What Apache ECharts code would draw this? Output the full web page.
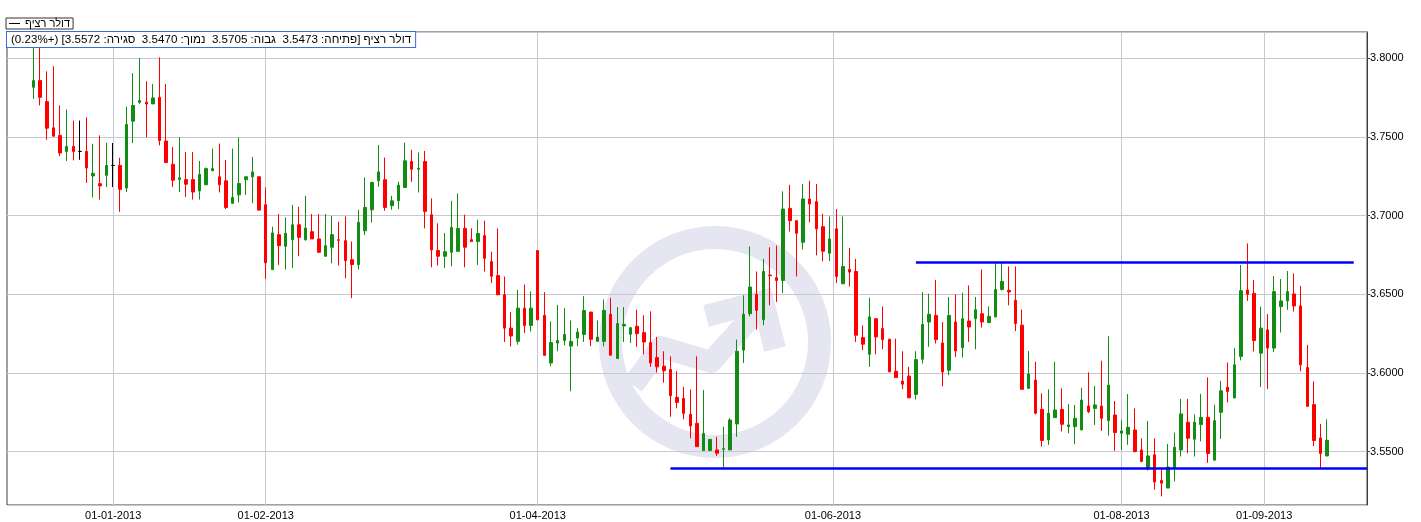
<!DOCTYPE html>
<html><head><meta charset="utf-8">
<script src="https://cdn.jsdelivr.net/npm/echarts@6/dist/echarts.min.js"></script>
<style>html,body{margin:0;padding:0;background:#fff}#c{width:1421px;height:522px}</style>
</head><body><div id="c"></div>
<script>
// ---------------- data ----------------
const seriesName = 'דולר רציף';
const firstTradeDay = '2012-12-14';   // first candle; one candle per weekday
const padBefore = 4, padAfter = 6;     // empty weekday slots on the axis

const open = [
3.7816,3.7858,3.7725,3.7558,3.7510,3.7408,3.7440,3.7408,3.7408,3.7252,3.7203,3.7256,3.7319,3.7319,3.7176,3.7600,3.7720,3.7721,3.7710,3.7752,3.7474,3.7326,3.7229,3.7229,3.7229,3.7157,3.7196,
3.7285,3.7247,3.7221,3.7078,3.7132,3.7228,3.7247,3.7247,3.7069,3.6657,3.6879,3.6805,3.6847,3.6942,3.6847,3.6898,3.6852,3.6742,3.6799,3.6847,3.6841,3.6720,3.6689,3.6904,3.7037,3.7221,3.7228,3.7063,3.7094,3.7179,
3.7344,3.7295,3.7344,3.7006,3.6778,3.6742,3.6767,3.6773,3.6919,3.6847,3.6835,3.6873,3.6708,3.6619,3.6497,3.6285,3.6201,3.6412,3.6302,3.6778,3.6366,3.6064,3.6190,3.6207,3.6171,3.6222,3.6245,3.6387,3.6201,3.6201,
3.6373,3.6092,3.6299,3.6246,3.6297,3.6256,3.6193,3.6098,3.6043,3.6022,3.5845,3.5838,3.5737,3.5680,3.5507,3.5507,3.5511,3.5515,3.5511,3.5676,3.6145,3.6377,3.6500,3.6339,3.6622,3.6605,3.6588,3.7046,
3.6968,3.6831,3.7106,3.7089,3.6930,3.6761,3.6916,3.6567,3.6658,3.6645,3.6225,3.6119,3.6345,3.6282,3.6214,3.6011,3.5948,3.5980,3.5864,3.6087,3.6324,3.6366,3.6191,3.6018,3.6324,3.6161,3.6330,3.6345,3.6377,3.6320,3.6356,
3.6530,3.6525,3.6462,3.6304,3.5902,3.5955,3.5769,3.5575,3.5716,3.5769,3.5659,3.5659,3.5638,3.5790,3.5775,3.5790,3.5697,3.5733,3.5617,3.5611,3.5638,3.5511,3.5395,3.5480,3.5317,3.5269,3.5395,3.5511,3.5687,3.5579,
3.5672,3.5718,3.5446,3.5750,3.5909,3.5841,3.6105,3.6527,3.6506,3.6126,3.6274,3.6158,3.6422,3.6458,3.6502,3.6426,3.6035,3.5799,3.5587,3.5473];
const close = [
3.7858,3.7752,3.7556,3.7505,3.7398,3.7440,3.7408,3.7408,3.7303,3.7269,3.7189,3.7319,3.7319,3.7167,3.7579,3.7700,3.7731,3.7710,3.7748,3.7478,3.7337,3.7225,3.7240,3.7200,3.7150,3.7262,3.7299,
3.7299,3.7196,3.7052,3.7115,3.7204,3.7247,3.7278,3.7035,3.6700,3.6890,3.6809,3.6888,3.6942,3.6862,3.6921,3.6852,3.6767,3.6809,3.6879,3.6843,3.6714,3.6689,3.6957,3.7052,3.7211,3.7278,3.7052,3.7094,3.7194,3.7348,
3.7295,3.7301,3.7027,3.6782,3.6742,3.6771,3.6925,3.6919,3.6799,3.6835,3.6887,3.6729,3.6615,3.6497,3.6285,3.6235,3.6412,3.6302,3.6412,3.6338,3.6112,3.6193,3.6207,3.6245,3.6201,3.6260,3.6397,3.6214,3.6228,3.6397,
3.6113,3.6314,3.6309,3.6288,3.6250,3.6197,3.6064,3.6039,3.6014,3.5855,3.5813,3.5743,3.5663,3.5532,3.5616,3.5578,3.5490,3.5519,3.5701,3.6138,3.6373,3.6546,3.6398,3.6645,3.6618,3.6588,3.7042,3.6968,
3.6888,3.7106,3.7074,3.6916,3.6774,3.6852,3.6613,3.6677,3.6641,3.6240,3.6183,3.6356,3.6229,3.6212,3.6007,3.5971,3.5929,3.5842,3.6085,3.6309,3.6373,3.6212,3.6007,3.6366,3.6140,3.6345,3.6292,3.6402,3.6324,3.6360,3.6530,
3.6582,3.6515,3.6314,3.5896,3.5993,3.5744,3.5571,3.5744,3.5765,3.5674,3.5670,3.5712,3.5828,3.5754,3.5797,3.5712,3.5923,3.5621,3.5632,3.5655,3.5501,3.5438,3.5473,3.5307,3.5300,3.5402,3.5528,3.5740,3.5585,3.5687,
3.5718,3.5488,3.5697,3.5887,3.5883,3.6052,3.6523,3.6500,3.6206,3.6285,3.6158,3.6517,3.6458,3.6517,3.6426,3.6052,3.5788,3.5571,3.5488,3.5572];
const high = [
3.8069,3.8065,3.7917,3.7949,3.7700,3.7674,3.7604,3.7604,3.7625,3.7457,3.7510,3.7462,3.7462,3.7368,3.7693,3.7905,3.8002,3.7854,3.7837,3.8006,3.7837,3.7436,3.7499,3.7404,3.7404,3.7347,3.7306,
3.7426,3.7458,3.7354,3.7426,3.7496,3.7247,3.7373,3.7247,3.7179,3.6930,3.7010,3.6989,3.7069,3.7056,3.7126,3.7010,3.7010,3.7010,3.6999,3.6961,3.6995,3.6835,3.7037,3.7242,3.7215,3.7449,3.7369,3.7126,3.7215,3.7464,
3.7418,3.7401,3.7411,3.7109,3.6951,3.6890,3.7094,3.7141,3.7006,3.6919,3.6974,3.6968,3.6771,3.6919,3.6613,3.6387,3.6528,3.6562,3.6518,3.6778,3.6514,3.6328,3.6433,3.6412,3.6334,3.6285,3.6488,3.6387,3.6334,3.6467,
3.6478,3.6419,3.6419,3.6288,3.6402,3.6366,3.6392,3.6229,3.6138,3.6106,3.6011,3.5912,3.5895,3.6106,3.5891,3.5578,3.5595,3.5659,3.5712,3.6212,3.6493,3.6804,3.6645,3.6725,3.6799,3.6810,3.7154,3.7196,
3.6968,3.7201,3.7222,3.7201,3.7011,3.6994,3.7042,3.6994,3.6795,3.6725,3.6303,3.6478,3.6345,3.6423,3.6218,3.6218,3.6138,3.6039,3.6138,3.6514,3.6504,3.6592,3.6324,3.6483,3.6500,3.6510,3.6556,3.6483,3.6658,3.6423,3.6705,
3.6705,3.6677,3.6677,3.6403,3.6139,3.6071,3.5871,3.5896,3.6071,3.5902,3.5803,3.5797,3.5906,3.6004,3.5917,3.6078,3.6234,3.5822,3.5702,3.5866,3.5775,3.5585,3.5695,3.5585,3.5389,3.5549,3.5621,3.5835,3.5835,3.5737,
3.5868,3.5972,3.5799,3.5951,3.6067,3.6158,3.6686,3.6823,3.6591,3.6422,3.6375,3.6616,3.6597,3.6648,3.6633,3.6553,3.6179,3.5947,3.5676,3.5705];
const low = [
3.7742,3.7700,3.7482,3.7503,3.7379,3.7347,3.7351,3.7355,3.7208,3.7115,3.7102,3.7182,3.7182,3.7024,3.7150,3.7461,3.7710,3.7499,3.7710,3.7446,3.7334,3.7182,3.7150,3.7119,3.7102,3.7102,3.7196,
3.7285,3.7147,3.7042,3.7078,3.7084,3.7132,3.7078,3.7035,3.6598,3.6657,3.6687,3.6657,3.6666,3.6742,3.6841,3.6852,3.6763,3.6742,3.6697,3.6683,3.6602,3.6476,3.6657,3.6877,3.6957,3.7183,3.7031,3.7037,3.7042,3.7179,
3.7215,3.7147,3.6919,3.6672,3.6683,3.6666,3.6678,3.6773,3.6672,3.6835,3.6687,3.6645,3.6571,3.6497,3.6197,3.6169,3.6180,3.6254,3.6264,3.6334,3.6108,3.6042,3.6138,3.6176,3.5884,3.6171,3.6197,3.6171,3.6201,3.6169,
3.6112,3.6092,3.6197,3.6191,3.6166,3.6119,3.6039,3.6003,3.5938,3.5722,3.5775,3.5705,3.5585,3.5532,3.5507,3.5507,3.5473,3.5395,3.5511,3.5595,3.6064,3.6360,3.6275,3.6303,3.6430,3.6451,3.6508,3.6899,
3.6613,3.6785,3.6958,3.6747,3.6711,3.6711,3.6571,3.6567,3.6550,3.6197,3.6145,3.6039,3.6119,3.6151,3.6007,3.5971,3.5897,3.5842,3.5832,3.6060,3.6166,3.6187,3.5916,3.5986,3.6102,3.6098,3.6197,3.6151,3.6288,3.6320,3.6356,
3.6525,3.6430,3.6266,3.5896,3.5902,3.5737,3.5533,3.5543,3.5716,3.5628,3.5617,3.5547,3.5638,3.5744,3.5670,3.5632,3.5602,3.5505,3.5511,3.5543,3.5495,3.5433,3.5380,3.5258,3.5216,3.5269,3.5311,3.5469,3.5490,3.5469,
3.5566,3.5429,3.5446,3.5581,3.5813,3.5841,3.6080,3.6458,3.6137,3.5911,3.5898,3.6133,3.6257,3.6401,3.6390,3.6010,3.5788,3.5535,3.5397,3.5470];

const monthTicks = ['2013-01-01','2013-02-01','2013-04-01','2013-06-01','2013-08-01','2013-09-01'];
const trendLines = [
  {from:'2013-06-19', to:'2013-09-19', value:3.6703},
  {from:'2013-04-29', to:'2013-09-23', value:3.5396}
];
const lastQuote = {open:3.5473, high:3.5705, low:3.5470, close:3.5572, change:'+0.23%'};
const yRange = {min:3.5161, max:3.8167, step:0.05};

// ---------------- derived ----------------
const DAY = 86400000;
function parseD(s){const p=s.split('-').map(Number);return Date.UTC(p[0],p[1]-1,p[2]);}
function fmtD(t){const d=new Date(t);return d.getUTCFullYear()+'-'+String(d.getUTCMonth()+1).padStart(2,'0')+'-'+String(d.getUTCDate()).padStart(2,'0');}
function isWk(t){const w=new Date(t).getUTCDay();return w!==0&&w!==6;}
const before=[]; let u=parseD(firstTradeDay);
while(before.length<padBefore){u-=DAY;if(isWk(u))before.unshift(fmtD(u));}
const after=[fmtD(parseD(firstTradeDay))]; u=parseD(firstTradeDay);
while(after.length<open.length+padAfter){u+=DAY;if(isWk(u))after.push(fmtD(u));}
const axisDates = before.concat(after);
const N = axisDates.length;
const candleData = axisDates.map((d,i)=>{const k=i-padBefore;return (k>=0&&k<open.length)?[open[k],close[k],low[k],high[k]]:'-';});

// half-slot axis for month gridlines/labels (a month start may fall between trading days)
const slotKeys = Array.from({length:2*N-1},(_,j)=>'s'+j);
const slotLabel = {};
monthTicks.forEach(d=>{
  let i = axisDates.indexOf(d), slot;
  if(i>=0) slot=2*i; else { i=axisDates.findIndex(x=>x>d); slot=2*i-1; }
  slotLabel['s'+slot] = d.slice(8,10)+'-'+d.slice(5,7)+'-'+d.slice(0,4);
});
const showSlot = (idx)=>!!slotLabel[slotKeys[idx]];

const infoText = '\u202B' + seriesName + ' [פתיחה: ' + lastQuote.open.toFixed(4) + '  גבוה: ' + lastQuote.high.toFixed(4) +
  '  נמוך: ' + lastQuote.low.toFixed(4) + '  סגירה: ' + lastQuote.close.toFixed(4) + '] (' + lastQuote.change + ')\u202C';

const GRID = '#c8c8d4', FRAME = '#404040', WM = '#e6e6f2';
const chart = echarts.init(document.getElementById('c'), null, {renderer:'canvas'});
chart.setOption({
  animation:false,
  backgroundColor:'#ffffff',
  textStyle:{fontFamily:'Arial, "Liberation Sans", sans-serif'},
  grid:{left:7, right:54, top:32, bottom:17, show:true, borderColor:FRAME, borderWidth:1, backgroundColor:'transparent'},
  legend:{left:6, top:18, padding:[0,3,0,3], itemGap:0, itemWidth:11, itemHeight:1, icon:'rect',
    borderColor:'#333', borderWidth:1, backgroundColor:'#fff', selectedMode:false,
    itemStyle:{color:'#000', borderWidth:0},
    textStyle:{fontSize:11, color:'#000', lineHeight:10},
    data:[{name:seriesName, itemStyle:{color:'#000', borderWidth:0}}]},
  xAxis:[
    {type:'category', data:axisDates, boundaryGap:false, position:'bottom',
     axisLine:{show:false}, axisTick:{show:false}, axisLabel:{show:false}, splitLine:{show:false}},
    {type:'category', data:slotKeys, boundaryGap:false, position:'bottom',
     axisLine:{show:false}, axisTick:{show:false},
     axisLabel:{interval:showSlot, formatter:(v)=>slotLabel[v]||'', fontSize:11, color:'#000', margin:5},
     splitLine:{show:true, interval:showSlot, lineStyle:{color:GRID, width:1}}}
  ],
  yAxis:{type:'value', position:'right', min:yRange.min, max:yRange.max,
    minInterval:yRange.step, maxInterval:yRange.step,
    axisLine:{show:true, lineStyle:{color:FRAME}}, axisTick:{show:true, length:3, lineStyle:{color:FRAME}},
    axisLabel:{showMinLabel:false, showMaxLabel:false, formatter:(v)=>v.toFixed(4), fontSize:11, color:'#000', margin:3},
    splitLine:{show:true, lineStyle:{color:GRID, width:1}}},
  graphic:[
    {type:'ring', shape:{cx:715, cy:342, r:116, r0:93}, style:{fill:WM}, z:-10, silent:true},
    {type:'polyline', shape:{points:[[633,385],[661,347],[711,362],[757,311]]}, style:{stroke:WM, lineWidth:22, fill:null, lineJoin:'round'}, z:-10, silent:true},
    {type:'polyline', shape:{points:[[706,316],[763,301],[775,349]]}, style:{stroke:WM, lineWidth:22, fill:null, lineJoin:'miter'}, z:-10, silent:true},
    {type:'text', left:6, top:31, z:100, silent:true,
     style:{text:infoText, font:'11.6px Arial, "Liberation Sans", sans-serif', fill:'#000', backgroundColor:'#fff', borderColor:'#3a6cd6', borderWidth:1, padding:[2,4,1,4]}}
  ],
  series:[{
    type:'candlestick', name:seriesName, xAxisIndex:0, yAxisIndex:0, data:candleData, barWidth:3,
    itemStyle:{color:'#128c12', color0:'#ff0000', borderColor:'#128c12', borderColor0:'#ff0000', borderColorDoji:'#000000', borderWidth:1},
    markLine:{silent:true, symbol:['none','none'], label:{show:false}, animation:false,
      lineStyle:{color:'#0000ff', width:2.5, type:'solid'},
      data: trendLines.map(t=>[{coord:[t.from,t.value]},{coord:[t.to,t.value]}])}
  }]
});
</script></body></html>
